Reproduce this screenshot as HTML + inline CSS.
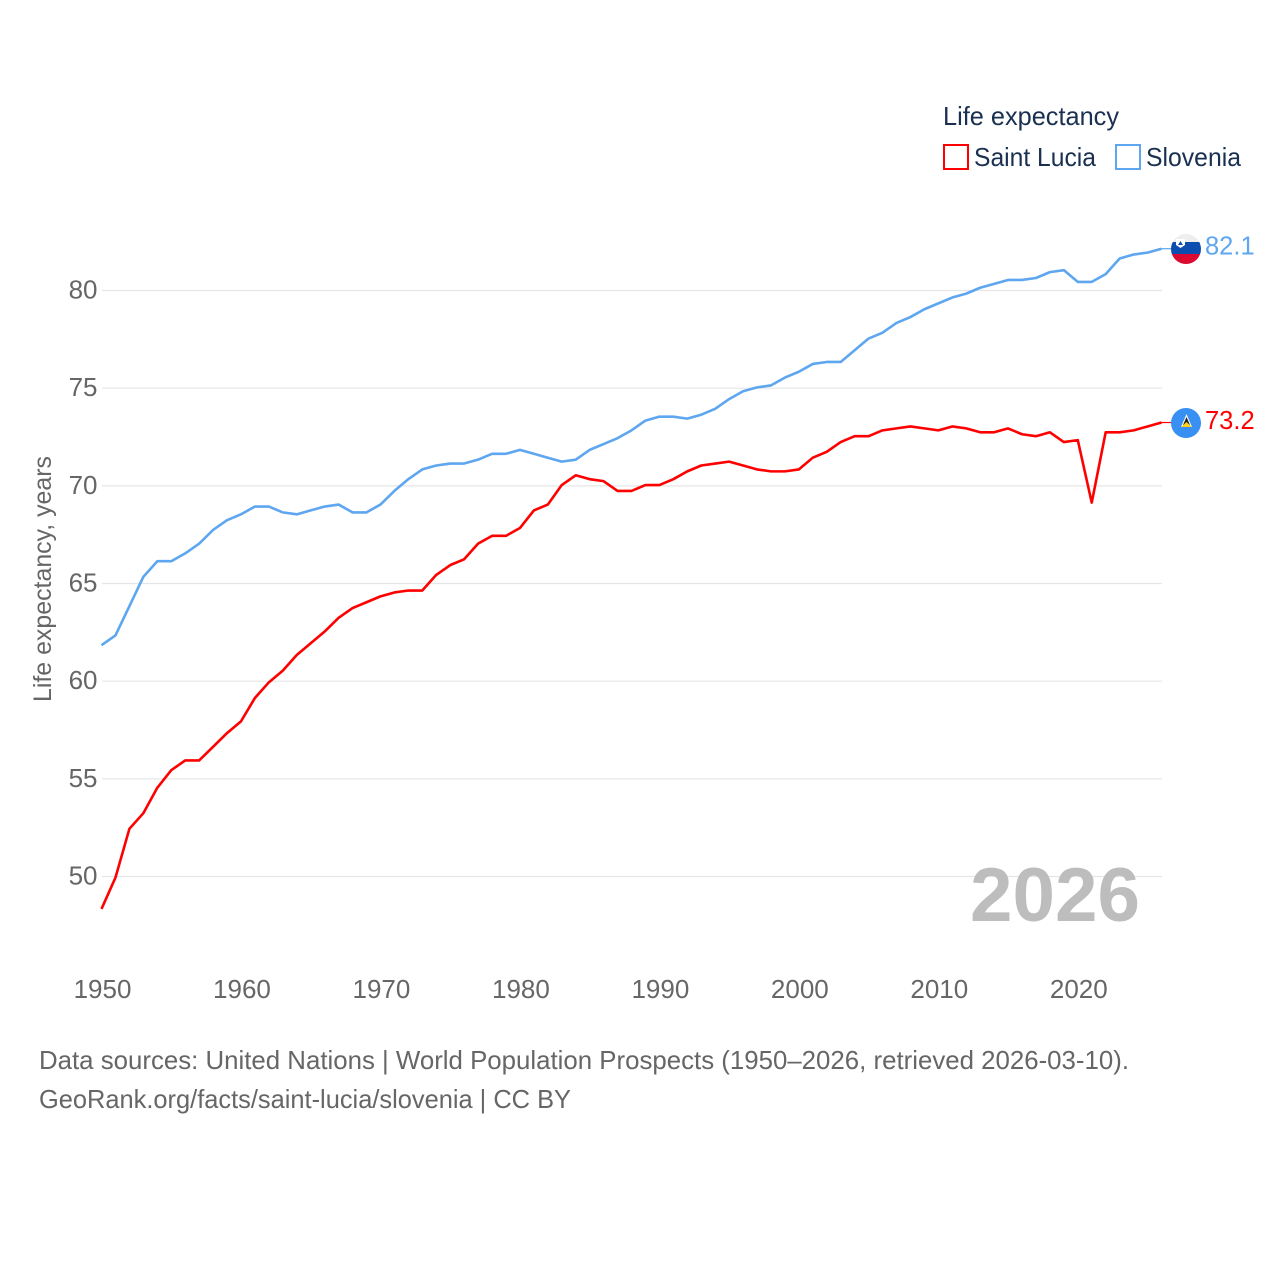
<!DOCTYPE html>
<html lang="en">
<head>
<meta charset="utf-8">
<title>Life expectancy: Saint Lucia and Slovenia</title>
<style>
html,body{margin:0;padding:0;background:#fff;width:1280px;height:1280px;overflow:hidden}
svg{display:block;font-family:"Liberation Sans",sans-serif}
</style>
</head>
<body>
<svg id="chart" width="1280" height="1280" viewBox="0 0 1280 1280" xmlns="http://www.w3.org/2000/svg">
  <defs>
    <clipPath id="si-clip"><circle cx="1186" cy="249" r="15"/></clipPath>
    <clipPath id="lc-clip"><circle cx="1186" cy="423" r="15"/></clipPath>
  </defs>
  <g id="grid"></g>
  <g id="yticks"></g>
  <g id="xticks"></g>
  <text transform="translate(51,579) rotate(-90)" text-anchor="middle" font-size="25" fill="#666" textLength="246" lengthAdjust="spacingAndGlyphs">Life expectancy, years</text>
  <text x="1140" y="921" text-anchor="end" font-size="76" font-weight="bold" fill="#bdbdbd" textLength="170" lengthAdjust="spacingAndGlyphs">2026</text>
  <g id="series" transform="translate(0,-0.8)"></g>

  <g clip-path="url(#si-clip)">
    <rect x="1171" y="234" width="30" height="8" fill="#eeeeee"/>
    <rect x="1171" y="242" width="30" height="12" fill="#0b4eb0"/>
    <rect x="1171" y="254" width="30" height="10" fill="#dc0a30"/>
    <path d="M1176 239h9v6l-4.500 3-4.500-3z" fill="#fff"/>
    <path d="M1180.500 241l2.500 4h-5z" fill="#0b4eb0"/>
  </g>
  <g>
    <circle cx="1186" cy="423" r="15" fill="#3790f2"/>
    <path d="M1186.500 414l5.500 13h-11z" fill="#fff"/>
    <path d="M1186.500 417l3.500 8h-7z" fill="#222"/>
    <path d="M1186.500 422l5.500 5h-11z" fill="#fcd116"/>
  </g>
  <text id="label-si" x="1205" y="254.500" font-size="25.500" fill="#5ea6f0"></text>
  <text id="label-lc" x="1205" y="429" font-size="25.500" fill="#ff0000"></text>

  <text x="943" y="125" font-size="26" fill="#1a3050" textLength="176" lengthAdjust="spacingAndGlyphs">Life expectancy</text>
  <rect x="944" y="145" width="24" height="24" fill="#fff" stroke="#ff0000" stroke-width="2"/>
  <text x="974" y="166" font-size="26" fill="#1a3050" textLength="122" lengthAdjust="spacingAndGlyphs">Saint Lucia</text>
  <rect x="1116" y="145" width="24" height="24" fill="#fff" stroke="#5ea6f0" stroke-width="2"/>
  <text x="1146" y="166" font-size="26" fill="#1a3050" textLength="95" lengthAdjust="spacingAndGlyphs">Slovenia</text>

  <text x="39" y="1069" font-size="26" fill="#666" textLength="1090" lengthAdjust="spacingAndGlyphs">Data sources: United Nations | World Population Prospects (1950–2026, retrieved 2026-03-10).</text>
  <text x="39" y="1108" font-size="26" fill="#666" textLength="532" lengthAdjust="spacingAndGlyphs">GeoRank.org/facts/saint-lucia/slovenia | CC BY</text>
</svg>
<script>
const startYear = 1950;
const xTickYears = [1950, 1960, 1970, 1980, 1990, 2000, 2010, 2020];
const yTickValues = [50, 55, 60, 65, 70, 75, 80];
const saintLucia = [48.3,49.9,52.4,53.2,54.5,55.4,55.9,55.9,56.6,57.3,
  57.9,59.1,59.9,60.5,61.3,61.9,62.5,63.2,63.7,64.0,
  64.3,64.5,64.6,64.6,65.4,65.9,66.2,67.0,67.4,67.4,
  67.8,68.7,69.0,70.0,70.5,70.3,70.2,69.7,69.7,70.0,
  70.0,70.3,70.7,71.0,71.1,71.2,71.0,70.8,70.7,70.7,
  70.8,71.4,71.7,72.2,72.5,72.5,72.8,72.9,73.0,72.9,
  72.8,73.0,72.9,72.7,72.7,72.9,72.6,72.5,72.7,72.2,
  72.3,69.1,72.7,72.7,72.8,73.0,73.2];
const slovenia = [61.8,62.3,63.8,65.3,66.1,66.1,66.5,67.0,67.7,68.2,
  68.5,68.9,68.9,68.6,68.5,68.7,68.9,69.0,68.6,68.6,
  69.0,69.7,70.3,70.8,71.0,71.1,71.1,71.3,71.6,71.6,
  71.8,71.6,71.4,71.2,71.3,71.8,72.1,72.4,72.8,73.3,
  73.5,73.5,73.4,73.6,73.9,74.4,74.8,75.0,75.1,75.5,
  75.8,76.2,76.3,76.3,76.9,77.5,77.8,78.3,78.6,79.0,
  79.3,79.6,79.8,80.1,80.3,80.5,80.5,80.6,80.9,81.0,
  80.4,80.4,80.8,81.6,81.8,81.9,82.1];

const NS = 'http://www.w3.org/2000/svg';
const xScale = year => 101.5 + (year - 1950) * 13.947;
const yScale = value => 876.5 - (value - 50) * 19.533;
const lastYear = startYear + saintLucia.length - 1;

const grid = document.getElementById('grid');
const yticks = document.getElementById('yticks');
const xticks = document.getElementById('xticks');
const seriesGroup = document.getElementById('series');

yTickValues.forEach(v => {
  const line = document.createElementNS(NS, 'line');
  
  
  line.setAttribute('x1', 102);
  line.setAttribute('x2', 1162);
  line.setAttribute('y1', yScale(v));
  line.setAttribute('y2', yScale(v));
  line.setAttribute('stroke', '#e6e6e6');
  line.setAttribute('stroke-width', 1.2);
  grid.appendChild(line);

  const label = document.createElementNS(NS, 'text');
  
  
  label.setAttribute('x', 97.5);
  label.setAttribute('y', yScale(v) + 8);
  label.setAttribute('text-anchor', 'end');
  label.setAttribute('font-size', 26);
  label.setAttribute('fill', '#666');
  label.textContent = v;
  yticks.appendChild(label);
});

xTickYears.forEach(y => {
  const label = document.createElementNS(NS, 'text');
  
  
  label.setAttribute('x', xScale(y) + 1);
  label.setAttribute('y', 998);
  label.setAttribute('text-anchor', 'middle');
  label.setAttribute('font-size', 26);
  label.setAttribute('fill', '#666');
  label.textContent = y;
  xticks.appendChild(label);
});

function drawSeries(values, color, name) {
  const pts = values.map((v, i) => xScale(startYear + i).toFixed(2) + ',' + yScale(v).toFixed(2)).join(' ');
  const path = document.createElementNS(NS, 'polyline');
  
  
  path.setAttribute('points', pts);
  path.setAttribute('fill', 'none');
  path.setAttribute('stroke', color);
  path.setAttribute('stroke-width', 2.6);
  path.setAttribute('stroke-linejoin', 'round');
  seriesGroup.appendChild(path);

  const last = values[values.length - 1];
  const connector = document.createElementNS(NS, 'line');
  
  
  connector.setAttribute('x1', xScale(lastYear));
  connector.setAttribute('x2', 1172);
  connector.setAttribute('y1', yScale(last));
  connector.setAttribute('y2', yScale(last));
  connector.setAttribute('stroke', color);
  connector.setAttribute('stroke-width', 1.2);
  seriesGroup.appendChild(connector);
}
drawSeries(slovenia, '#5ea6f0', 'slovenia');
drawSeries(saintLucia, '#ff0000', 'saint-lucia');

document.getElementById('label-si').textContent = slovenia[slovenia.length - 1].toFixed(1);
document.getElementById('label-lc').textContent = saintLucia[saintLucia.length - 1].toFixed(1);
</script>
</body>
</html>
